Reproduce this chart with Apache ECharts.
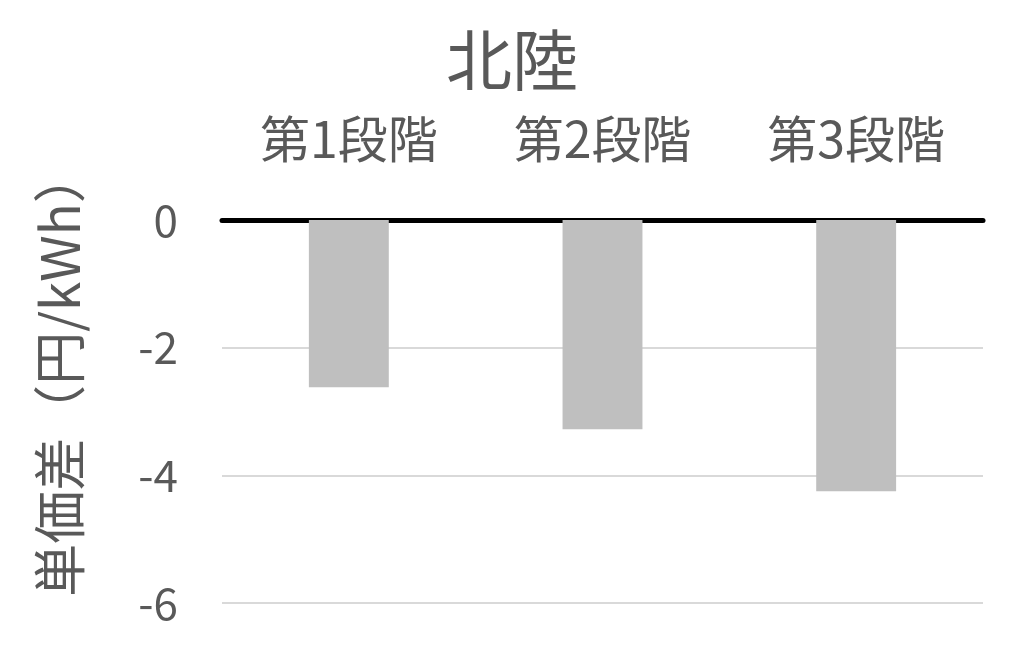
<!DOCTYPE html>
<html>
<head>
<meta charset="utf-8">
<script src="https://cdn.jsdelivr.net/npm/echarts@6/dist/echarts.min.js"></script>
<style>
  html, body { margin: 0; padding: 0; background: #fff; }
  #chart { width: 1024px; height: 645px; }
</style>
</head>
<body>
<div id="chart"></div>
<script>
var categories = ['第1段階', '第2段階', '第3段階'];
var diffValues = [-2.62, -3.28, -4.25];
var yTicks = { min: -6, max: 0, interval: 2 };

var chart = echarts.init(document.getElementById('chart'));
var font = '"Noto Sans CJK JP", sans-serif';
var option = {
    animation: false,
    title: {
        text: '北陸',
        left: 'center',
        top: 22,
        textStyle: { fontFamily: font, fontSize: 66, fontWeight: 'normal', color: '#595959' }
    },
    grid: { left: 222, right: 41, top: 220, bottom: 42 },
    xAxis: {
        type: 'category',
        position: 'top',
        data: categories,
        axisLine: { show: true, lineStyle: { color: '#000', width: 5 } },
        axisTick: { show: false },
        axisLabel: { margin: 56, fontFamily: font, fontSize: 50, color: '#595959' }
    },
    yAxis: {
        type: 'value',
        min: yTicks.min,
        max: yTicks.max,
        interval: yTicks.interval,
        name: '単価差（円/kWh）',
        nameLocation: 'middle',
        nameRotate: 90,
        nameGap: 136,
        nameTextStyle: { fontFamily: font, fontSize: 53, color: '#595959', padding: [0, 0, 0, 76] },
        axisLine: { show: false },
        axisTick: { show: false },
        splitLine: { lineStyle: { color: '#d9d9d9', width: 2 } },
        axisLabel: { margin: 44, fontFamily: font, fontSize: 44, color: '#595959' }
    },
    series: [{
        type: 'bar',
        data: diffValues,
        barWidth: '31.5%',
        itemStyle: { color: '#bfbfbf' }
    }]
};
chart.setOption(option);
</script>
</body>
</html>
